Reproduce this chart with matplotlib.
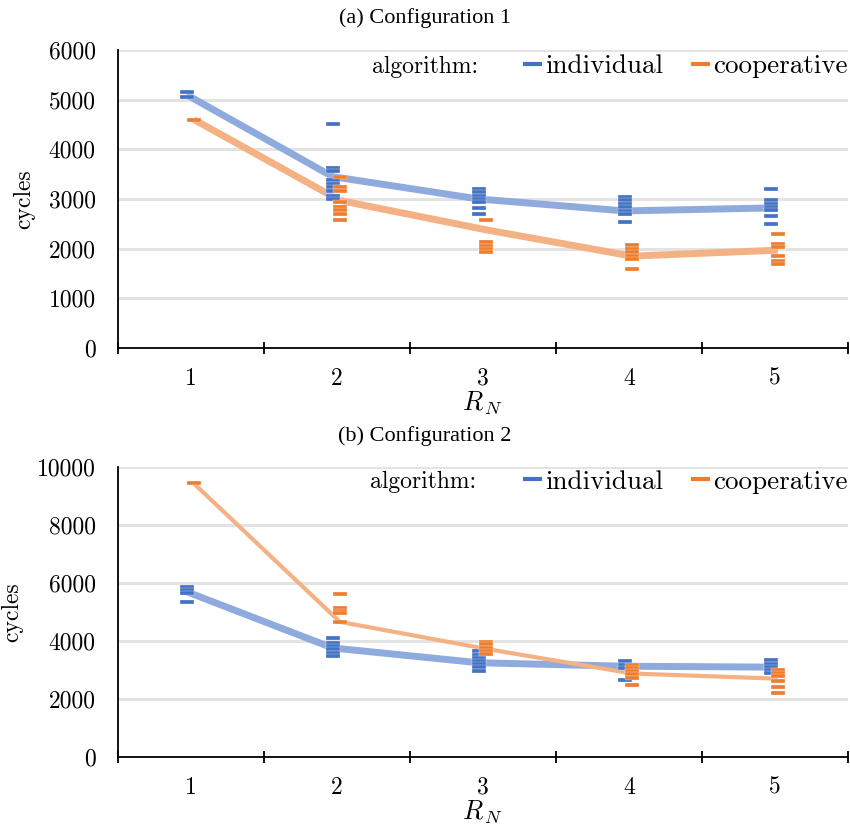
import matplotlib
matplotlib.use("Agg")
import matplotlib.pyplot as plt
from matplotlib.lines import Line2D
from matplotlib.ticker import FixedLocator, NullFormatter, FixedFormatter
import numpy as np

plt.rcParams['mathtext.fontset'] = 'cm'
plt.rcParams['font.family'] = ['cmr10', 'DejaVu Serif']
plt.rcParams['axes.formatter.use_mathtext'] = True

categories = [1, 2, 3, 4, 5]
tick_labels = ['1', '2', '3', '4', '5']

# Configuration 1: per-run values and line (average) values
c1_ind_runs = [
    [5150, 5060],
    [4520, 3620, 3560, 3380, 3310, 3240, 3170, 3060, 2990],
    [3210, 3140, 3070, 3000, 2940, 2820, 2700],
    [3040, 2970, 2900, 2830, 2760, 2700, 2530],
    [3200, 2970, 2900, 2840, 2780, 2660, 2490],
]
c1_coop_runs = [
    [4600],
    [3450, 3250, 3170, 2930, 2840, 2770, 2700, 2580],
    [2575, 2130, 2060, 1990, 1930],
    [2070, 2000, 1930, 1860, 1790, 1600],
    [2300, 2100, 2030, 1850, 1760, 1690],
]
c1_ind_avg = [5100, 3450, 3000, 2760, 2820]
c1_coop_avg = [4600, 2970, 2380, 1850, 1970]

# Configuration 2
c2_ind_runs = [
    [5850, 5750, 5650, 5350],
    [4100, 3930, 3820, 3710, 3600, 3500],
    [3640, 3530, 3420, 3310, 3200, 3100, 2960],
    [3300, 3180, 3060, 2650],
    [3330, 3220, 3110, 3000, 2890],
]
c2_coop_runs = [
    [9450],
    [5620, 5150, 5050, 4950, 4650],
    [3980, 3880, 3770, 3660, 3550],
    [3180, 3070, 2960, 2850, 2740, 2480],
    [3000, 2900, 2810, 2610, 2410, 2200],
]
c2_ind_avg = [5700, 3760, 3250, 3130, 3100]
c2_coop_avg = [9430, 4660, 3730, 2880, 2700]

IND_C = '#4472c4'
COOP_C = '#ed7d31'
IND_L = '#8faadc'
COOP_L = '#f4b183'
dash = [(-1, -0.27), (1, -0.27), (1, 0.27), (-1, 0.27), (-1, -0.27)]

fig = plt.figure(figsize=(8.5, 8.27), dpi=100)

def panel(rect, ind_runs, coop_runs, ind_avg, coop_avg, ymax, ystep,
          title, title_y, coop_lw, leg_y, alg_x):
    ax = fig.add_axes(rect)
    x = np.array(categories, dtype=float)
    xi = x - 0.03
    xc = x + 0.02
    ax.plot(xi, ind_avg, color=IND_L, lw=5, solid_capstyle='butt', zorder=2)
    ax.plot(xc, coop_avg, color=COOP_L, lw=coop_lw, solid_capstyle='butt', zorder=2)
    for k in range(len(categories)):
        ax.plot([xi[k]] * len(ind_runs[k]), ind_runs[k], ls='none', marker=dash,
                ms=9.5, mfc=IND_C, mec='white', mew=0.2, zorder=3)
    for k in range(len(categories)):
        ax.plot([xc[k]] * len(coop_runs[k]), coop_runs[k], ls='none', marker=dash,
                ms=9.5, mfc=COOP_C, mec='white', mew=0.2, zorder=4)
    ax.set_xlim(0.5, 5.5)
    ax.set_ylim(0, ymax)
    yt = np.arange(0, ymax + 1, ystep)
    ax.set_yticks(yt)
    ax.set_yticklabels([str(int(v)) for v in yt])
    for v in yt[1:]:
        ax.axhline(v, color='#e3e3e3', lw=2.2, zorder=1)
    ax.xaxis.set_major_locator(FixedLocator(np.arange(0.5, 5.6, 1.0)))
    ax.xaxis.set_major_formatter(NullFormatter())
    ax.xaxis.set_minor_locator(FixedLocator(categories))
    ax.xaxis.set_minor_formatter(FixedFormatter(tick_labels))
    ax.tick_params(axis='x', which='major', direction='inout', length=8, width=1.3, color='black')
    ax.tick_params(axis='x', which='minor', length=0, pad=14, labelsize=17)
    ax.tick_params(axis='y', length=0, pad=16, labelsize=17)
    for s in ['top', 'right']:
        ax.spines[s].set_visible(False)
    ax.spines['left'].set_linewidth(1.3)
    ax.spines['bottom'].set_linewidth(1.3)
    ax.spines['bottom'].set_zorder(5)
    ax.set_ylabel('cycles', fontsize=17, labelpad=10)
    ax.set_xlabel(r'$R_{\,N}$', fontsize=19, labelpad=0)
    fig.text(0.5, title_y, title, ha='center', va='center', fontsize=16,
             family='Liberation Serif')
    handles = [Line2D([], [], color=IND_C, lw=3, label='individual'),
               Line2D([], [], color=COOP_C, lw=3, label='cooperative')]
    ax.legend(handles=handles, loc='upper right', bbox_to_anchor=(1.0, leg_y), ncol=2,
              frameon=False, fontsize=19.5, handlelength=0.55, handletextpad=0.2,
              columnspacing=1.1, borderpad=0, borderaxespad=0)
    ax.text(alg_x, leg_y - 0.005, 'algorithm:', transform=ax.transAxes, ha='left', va='top',
            fontsize=17)
    return ax

panel([118/850, 1 - 348/827, 730/850, 298/827], c1_ind_runs, c1_coop_runs,
      c1_ind_avg, c1_coop_avg, 6000, 1000, '(a) Configuration 1', 1 - 18/827, 5, 0.985, 0.348)
panel([118/850, 1 - 757/827, 730/850, 290/827], c2_ind_runs, c2_coop_runs,
      c2_ind_avg, c2_coop_avg, 10000, 2000, '(b) Configuration 2', 1 - 436/827, 3, 0.99, 0.345)

fig.savefig('out.png', dpi=100)
